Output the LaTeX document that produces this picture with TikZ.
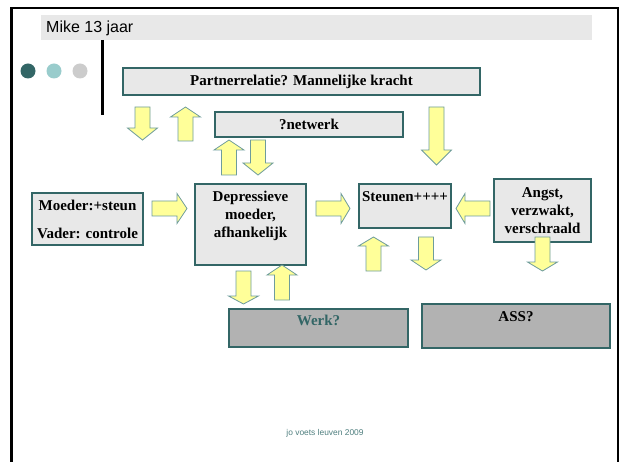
\documentclass[tikz,border=0pt]{standalone}
\usepackage{fontspec}
\setmainfont{Liberation Serif}
\newfontfamily\arialfont{Liberation Sans}
\definecolor{boxgray}{HTML}{E8E8E8}
\definecolor{darkgray2}{HTML}{B2B2B2}
\definecolor{tealdark}{HTML}{336666}
\definecolor{teallight}{HTML}{99CCCC}
\definecolor{dotgray}{HTML}{CCCCCC}
\definecolor{arrowfill}{HTML}{FFFF99}
\definecolor{arrowedge}{HTML}{6E9C9C}
\definecolor{footgray}{HTML}{4F7F7F}
\tikzset{
  box/.style={draw=tealdark, line width=1.1pt, fill=boxgray, inner sep=0pt},
  darkbox/.style={draw=tealdark, line width=1.1pt, fill=darkgray2, inner sep=0pt},
  boxtext/.style={font=\fontsize{15}{18}\selectfont\bfseries, align=center, inner sep=0pt},
  blockarrow/.style={draw=arrowedge, line width=0.8pt, fill=arrowfill, line join=miter},
}
\newcommand\barrow[4]{%
  \begin{scope}[shift={(#1)}, rotate=#2]
    \draw[blockarrow] (0,-7.5) -- ({#3-#4},-7.5) -- ({#3-#4},-15) -- (#3,0)
      -- ({#3-#4},15) -- ({#3-#4},7.5) -- (0,7.5) -- cycle;
  \end{scope}}
\begin{document}
\begin{tikzpicture}[x=1pt, y=-1pt]
\useasboundingbox (0,0) rectangle (623,462);
\fill[white] (0,0) rectangle (623,462);
% frame
\draw[line width=2.6pt, black] (11.5,462) -- (11.5,8) -- (618,8) -- (618,462);
% title bar
\fill[boxgray] (41,15) rectangle (592,40);
\node[anchor=west, inner sep=0pt, font=\arialfont\fontsize{16}{18}\selectfont] (title) at (46,28) {Mike 13 jaar};
\draw[line width=3pt, black] (102.5,40) -- (102.5,115);
% dots
\fill[tealdark] (28,71) circle (7.5);
\fill[teallight] (54,71) circle (7.5);
\fill[dotgray] (80,71) circle (7.5);
% boxes
\node[box, minimum width=357pt, minimum height=27pt] (partner) at (301.5,81.5) {};
\node[boxtext] at (partner) {Partnerrelatie? Mannelijke kracht};
\node[box, minimum width=188pt, minimum height=25pt] (netwerk) at (309,124.5) {};
\node[boxtext] at (netwerk) {?netwerk};
\node[box, minimum width=111pt, minimum height=52pt] (ouders) at (87.5,219) {};
\node[boxtext] at ([yshift=14pt]ouders.center) {Moeder:+steun};
\node[boxtext] at ([yshift=-14pt]ouders.center) {Vader: controle};
\node[box, minimum width=111pt, minimum height=81pt] (depr) at (250.5,224.5) {};
\node[boxtext, anchor=north] at ([yshift=-7pt]depr.north) {Depressieve\\moeder,\\afhankelijk};
\node[box, minimum width=92pt, minimum height=44pt] (steunen) at (405,206) {};
\node[boxtext] at ([yshift=-13pt]steunen.north) {Steunen++++};
\node[box, minimum width=97pt, minimum height=63pt] (angst) at (542.5,210.5) {};
\node[boxtext] at ([yshift=0pt]angst.center) {Angst,\\verzwakt,\\verschraald};
\node[darkbox, minimum width=179pt, minimum height=38pt] (werk) at (318.5,328) {};
\node[boxtext, text=tealdark] at ([yshift=-12pt]werk.north) {Werk?};
\node[darkbox, minimum width=188pt, minimum height=44pt] (ass) at (516,326) {};
\node[boxtext] at ([yshift=-13pt]ass.north) {ASS?};
% block arrows
\barrow{142.5,107}{-90}{33}{12}
\barrow{185.5,141}{90}{34}{10}
\barrow{229,175}{90}{35}{10}
\barrow{258,140}{-90}{35}{12}
\barrow{152,208.5}{0}{35}{10}
\barrow{316,208.5}{0}{34}{9}
\barrow{490,208.5}{180}{34}{9}
\barrow{436.5,107}{-90}{58}{15}
\barrow{373.5,271}{90}{34}{9}
\barrow{426,237}{-90}{33}{10}
\barrow{542.5,237}{-90}{34}{9}
\barrow{243.5,271}{-90}{33}{8}
\barrow{282,300}{90}{35}{10}
% footer
\node[font=\arialfont\fontsize{8.4}{10}\selectfont, text=footgray, inner sep=0pt] (footer) at (325,433) {jo voets leuven 2009};
\end{tikzpicture}
\end{document}
